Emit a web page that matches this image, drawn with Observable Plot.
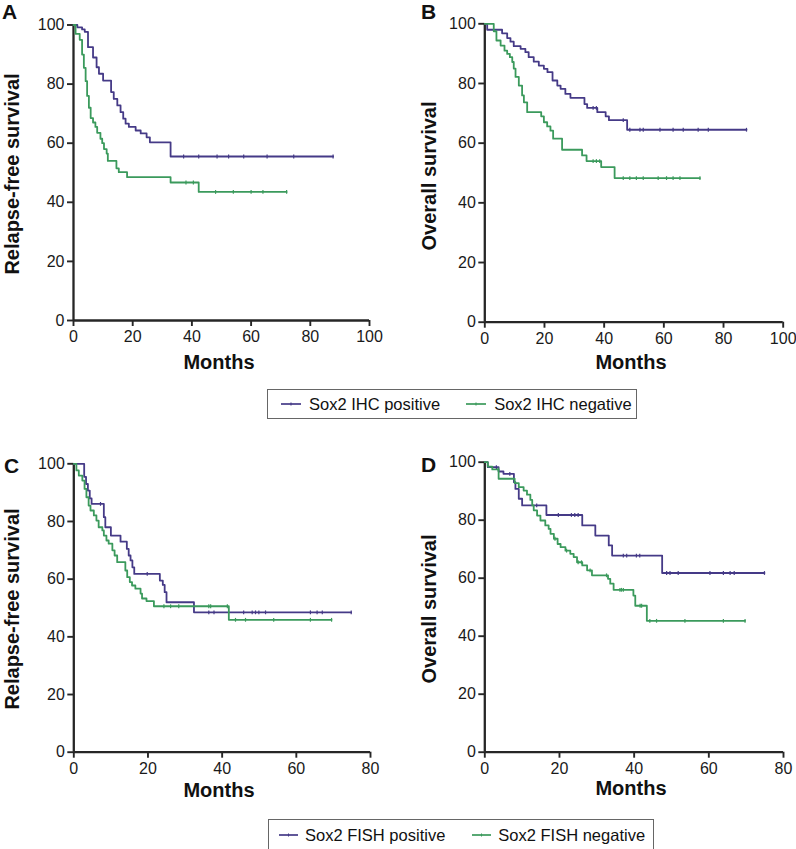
<!DOCTYPE html>
<html><head><meta charset="utf-8">
<script src="https://cdn.jsdelivr.net/npm/d3@7"></script>
<script src="https://cdn.jsdelivr.net/npm/@observablehq/plot@0.6"></script>
<style>
body{margin:0;background:#fff;font-family:"Liberation Sans",Arial,Helvetica,sans-serif;}
#root{position:relative;width:796px;height:849px;overflow:hidden;background:#fff;}
.panel{position:absolute;}
.ylab{position:absolute;font-weight:bold;font-size:20px;white-space:nowrap;line-height:1;transform:translate(-50%,-50%) rotate(-90deg);color:#111;}
.xlab{position:absolute;font-weight:bold;font-size:20px;white-space:nowrap;line-height:1;transform:translate(-50%,-50%);color:#111;}
.tag{position:absolute;font-weight:bold;font-size:21px;line-height:1;color:#111;}
.legend{position:absolute;border:1px solid #666;box-sizing:border-box;display:flex;align-items:center;font-size:16.5px;color:#111;white-space:nowrap;}
.legend svg{display:block;}
</style></head><body><div id="root"></div>
<script>
// ---------- data ----------
const ihcNames  = ["Sox2 IHC positive", "Sox2 IHC negative"];
const fishNames = ["Sox2 FISH positive", "Sox2 FISH negative"];
const yTicks = [0, 20, 40, 60, 80, 100];
const xTicksTop = [0, 20, 40, 60, 80, 100];
const xTicksBottom = [0, 20, 40, 60, 80];

// A: relapse-free survival, IHC
const aPosTime = [1.3, 2.9, 3.8, 4.9, 6.6, 7.8, 8.6, 10.0, 12.7, 13.6, 14.8, 15.9, 16.8, 17.6, 18.7, 21.0, 22.7, 24.7, 25.8, 32.8];
const aPosSurv = [99.2, 98.5, 97.7, 92.5, 89.0, 85.7, 83.5, 81.2, 77.3, 75.0, 72.8, 70.5, 68.3, 66.6, 65.5, 64.3, 63.3, 62.0, 60.3, 55.5];
const aPosCens = [37.2, 42.3, 48.5, 52.4, 57.5, 65.4, 74.4, 87.7];
const aNegTime = [0.7, 2.1, 2.9, 3.5, 4.1, 4.6, 5.2, 5.8, 6.6, 7.4, 8.0, 9.1, 9.7, 10.3, 11.2, 11.6, 14.5, 15.3, 18.1, 32.8, 42.3];
const aNegSurv = [97.0, 95.0, 90.0, 85.5, 81.0, 76.0, 72.0, 68.5, 67.0, 65.5, 63.5, 61.5, 60.0, 58.0, 56.5, 54.0, 51.5, 50.2, 48.5, 46.7, 43.5];
const aNegCens = [38.0, 40.5, 48.0, 54.0, 60.0, 64.0, 72.0];

// B: overall survival, IHC
const bPosTime = [0.8, 5.8, 7.5, 8.6, 9.7, 12.0, 13.6, 14.7, 16.4, 18.1, 19.8, 21.0, 22.7, 24.3, 25.4, 27.0, 28.7, 33.4, 34.3, 37.7, 40.5, 41.6, 47.7];
const bPosSurv = [98.0, 96.8, 95.2, 94.0, 92.5, 91.6, 90.5, 88.8, 87.3, 86.0, 84.9, 83.8, 81.0, 79.3, 78.2, 76.5, 75.2, 73.1, 71.8, 70.4, 69.0, 67.7, 64.5];
const bPosCens = [36.3, 37.4, 46.4, 48.6, 52.0, 53.1, 58.7, 63.1, 66.5, 71.5, 74.9, 87.7];
const bNegTime = [3.0, 3.9, 5.3, 6.6, 7.5, 8.4, 9.2, 9.7, 10.3, 11.4, 12.5, 13.1, 14.2, 18.9, 19.8, 20.9, 22.0, 22.9, 25.9, 32.6, 34.1, 39.0, 43.5];
const bNegSurv = [97.5, 94.4, 92.7, 91.0, 89.9, 88.8, 87.2, 85.0, 82.2, 79.3, 76.0, 73.7, 70.4, 69.0, 67.0, 65.6, 64.2, 61.5, 57.8, 55.9, 54.0, 52.0, 48.3];
const bNegCens = [36.3, 37.4, 38.5, 46.4, 48.6, 50.8, 53.1, 58.1, 60.9, 63.1, 65.4, 72.1];

// C: relapse-free survival, FISH
const cPosTime = [2.8, 3.3, 3.8, 4.3, 4.8, 8.1, 8.5, 10.0, 12.6, 14.3, 14.8, 15.3, 15.8, 16.3, 23.2, 24.0, 24.5, 25.0, 32.4];
const cPosSurv = [95.5, 93.0, 90.7, 88.0, 86.1, 81.5, 78.0, 75.1, 73.0, 70.5, 68.2, 66.5, 64.1, 61.8, 59.5, 58.0, 55.5, 52.0, 48.5];
const cPosCens = [7.2, 19.8, 36.4, 37.8, 45.8, 48.1, 49.0, 49.9, 51.7, 63.8, 65.6, 67.0, 74.8];
const cNegTime = [0.7, 1.35, 2.3, 2.9, 3.4, 4.0, 4.5, 5.4, 6.1, 6.7, 7.7, 8.1, 8.8, 9.4, 10.4, 11.0, 11.7, 13.9, 14.4, 15.1, 15.7, 16.6, 18.0, 18.4, 19.6, 21.6, 41.8];
const cNegSurv = [97.7, 95.9, 94.2, 91.3, 88.4, 85.5, 83.8, 82.1, 80.3, 78.0, 76.9, 75.1, 73.4, 72.3, 70.0, 68.2, 65.9, 63.0, 60.7, 59.0, 57.8, 56.7, 55.0, 53.3, 52.4, 50.6, 45.9];
const cNegCens = [24.3, 26.1, 28.3, 36.4, 36.9, 41.4, 43.6, 46.3, 53.9, 63.8, 69.5];

// D: overall survival, FISH
const dPosTime = [0.8, 3.7, 5.0, 7.8, 8.2, 9.1, 10.0, 16.5, 26.1, 29.6, 33.2, 34.1, 47.5];
const dPosSurv = [98.3, 96.8, 96.0, 93.1, 90.8, 87.4, 85.1, 81.8, 78.2, 74.7, 71.3, 67.8, 61.8];
const dPosCens = [3.1, 6.7, 13.9, 19.7, 23.2, 24.1, 25.0, 37.1, 38.0, 40.6, 41.5, 48.7, 49.6, 51.8, 60.3, 63.9, 65.7, 66.8, 74.9];
const dNegTime = [0.8, 2.0, 3.7, 8.0, 9.1, 10.4, 11.3, 12.2, 12.7, 13.1, 14.0, 14.9, 16.2, 17.1, 17.6, 18.5, 19.5, 20.3, 21.6, 22.9, 23.8, 24.7, 26.1, 27.4, 28.7, 33.0, 33.6, 34.5, 39.8, 40.3, 43.4];
const dNegSurv = [98.5, 97.5, 94.3, 92.8, 91.4, 90.2, 88.8, 87.0, 85.1, 83.4, 81.6, 79.9, 78.2, 77.0, 75.3, 73.6, 71.8, 70.7, 69.5, 68.4, 67.3, 65.5, 64.4, 62.7, 61.0, 59.8, 58.1, 56.0, 54.0, 50.5, 45.3];
const dNegCens = [3.6, 18.8, 21.9, 25.0, 25.9, 28.2, 32.6, 36.2, 36.6, 37.1, 41.6, 42.0, 44.2, 46.0, 53.6, 63.9, 69.7];

// ---------- styles ----------
const colors = ["#453a87", "#3b9a5c"];
const axisColor = "#262626";
const fontFamily = '"Liberation Sans", Arial, Helvetica, sans-serif';

// ---------- helpers ----------
const tickSymbol = {
  draw(context, size) {
    const r = Math.sqrt(size / Math.PI);
    context.moveTo(0, -r);
    context.lineTo(0, r);
  }
};
function survAt(times, survs, t) {
  let s = 100;
  for (let i = 0; i < times.length; i++) if (times[i] <= t) s = survs[i];
  return s;
}
function curveRows(name, times, survs, cens) {
  const rows = [{t: 0, s: 100, g: name}];
  times.forEach((t, i) => rows.push({t, s: survs[i], g: name}));
  const end = Math.max(times[times.length - 1], d3.max(cens));
  rows.push({t: end, s: survAt(times, survs, end), g: name});
  return rows;
}
function censRows(name, times, survs, cens) {
  return cens.map(t => ({t, s: survAt(times, survs, t), g: name}));
}

const root = document.getElementById("root");

function panel(cfg) {
  const {left, top, width, height, mL, mR, mT, mB, xMax, xTicks, names, pos, neg} = cfg;
  const lines = [
    ...curveRows(names[0], ...pos),
    ...curveRows(names[1], ...neg)
  ];
  const cens = [
    ...censRows(names[0], ...pos),
    ...censRows(names[1], ...neg)
  ];
  const chart = Plot.plot({
    width, height,
    marginLeft: mL, marginRight: mR, marginTop: mT, marginBottom: mB,
    style: {fontFamily, fontSize: "16px", color: "#1a1a1a", background: "transparent", overflow: "visible"},
    x: {domain: [0, xMax]},
    y: {domain: [0, 100]},
    color: {domain: names, range: colors},
    marks: [
      Plot.axisX({ticks: xTicks, tickSize: 6, tickPadding: 4, label: null, stroke: axisColor, strokeWidth: 1.9}),
      Plot.axisY({ticks: yTicks, tickSize: 6, tickPadding: 3, label: null, stroke: axisColor, strokeWidth: 1.9}),
      Plot.ruleX([0], {stroke: axisColor, strokeWidth: 2.3}),
      Plot.ruleY([0], {stroke: axisColor, strokeWidth: 2.3}),
      Plot.line(lines, {x: "t", y: "s", z: "g", stroke: "g", curve: "step-after", strokeWidth: 1.8}),
      Plot.dot(cens, {x: "t", y: "s", stroke: "g", symbol: tickSymbol, r: 1.9, strokeWidth: 1.2})
    ]
  });
  const div = document.createElement("div");
  div.className = "panel";
  div.style.left = left + "px";
  div.style.top = top + "px";
  div.appendChild(chart);
  root.appendChild(div);
}

function text(cls, str, x, y) {
  const d = document.createElement("div");
  d.className = cls;
  d.textContent = str;
  d.style.left = x + "px";
  d.style.top = y + "px";
  root.appendChild(d);
}

function legend(names, box, items) {
  const lg = document.createElement("div");
  lg.className = "legend";
  lg.style.left = box.left + "px";
  lg.style.top = box.top + "px";
  lg.style.width = box.width + "px";
  lg.style.height = box.height + "px";
  lg.style.paddingLeft = items.padLeft + "px";
  names.forEach((name, i) => {
    const sw = d3.create("svg").attr("width", items.swatch).attr("height", 10)
      .style("margin-left", i === 0 ? "0px" : items.between + "px")
      .style("margin-right", items.gap + "px");
    sw.append("line").attr("x1", 0).attr("x2", items.swatch).attr("y1", 5).attr("y2", 5)
      .attr("stroke", colors[i]).attr("stroke-width", 1.7);
    sw.append("line").attr("x1", items.swatch / 2).attr("x2", items.swatch / 2).attr("y1", 3.5).attr("y2", 6.5)
      .attr("stroke", colors[i]).attr("stroke-width", 1.1);
    lg.appendChild(sw.node());
    const sp = document.createElement("span");
    sp.textContent = name;
    lg.appendChild(sp);
  });
  root.appendChild(lg);
}

// ---------- panels ----------
panel({left: 0, top: 0, width: 396, height: 380, mL: 73, mR: 27, mT: 24.5, mB: 60,
  xMax: 100, xTicks: xTicksTop, names: ihcNames,
  pos: [aPosTime, aPosSurv, aPosCens], neg: [aNegTime, aNegSurv, aNegCens]});
panel({left: 396, top: 0, width: 396, height: 380, mL: 88.3, mR: 9.3, mT: 23.3, mB: 58.3,
  xMax: 100, xTicks: xTicksTop, names: ihcNames,
  pos: [bPosTime, bPosSurv, bPosCens], neg: [bNegTime, bNegSurv, bNegCens]});
panel({left: 0, top: 420, width: 396, height: 380, mL: 73.3, mR: 26, mT: 43.3, mB: 48.3,
  xMax: 80, xTicks: xTicksBottom, names: fishNames,
  pos: [cPosTime, cPosSurv, cPosCens], neg: [cNegTime, cNegSurv, cNegCens]});
panel({left: 396, top: 420, width: 396, height: 380, mL: 88.3, mR: 9, mT: 41.7, mB: 48.3,
  xMax: 80, xTicks: xTicksBottom, names: fishNames,
  pos: [dPosTime, dPosSurv, dPosCens], neg: [dNegTime, dNegSurv, dNegCens]});

// ---------- labels ----------
text("tag", "A", 2, 1);
text("tag", "B", 421, 1);
text("tag", "C", 4, 455);
text("tag", "D", 421, 454);

text("xlab", "Months", 219, 362);
text("xlab", "Months", 631, 362);
text("xlab", "Months", 219, 790);
text("xlab", "Months", 631, 788);

text("ylab", "Relapse-free survival", 12, 174);
text("ylab", "Overall survival", 429, 176);
text("ylab", "Relapse-free survival", 12, 609);
text("ylab", "Overall survival", 429, 609);

// ---------- legends ----------
legend(ihcNames, {left: 267, top: 389, width: 370, height: 30}, {padLeft: 13, swatch: 20, gap: 8, between: 26});
legend(fishNames, {left: 268, top: 819, width: 386, height: 32}, {padLeft: 10, swatch: 19, gap: 7, between: 27});
</script></body></html>
